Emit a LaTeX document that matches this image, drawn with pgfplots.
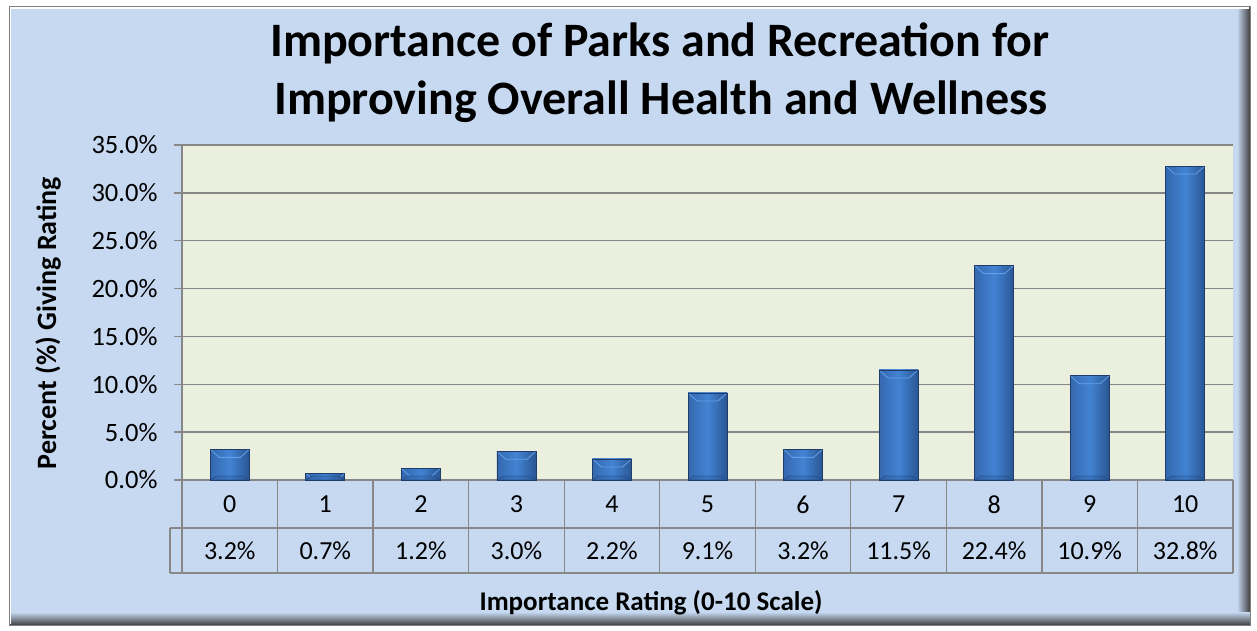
\documentclass[border=0pt]{standalone}
\usepackage{pgfplots}
\pgfplotsset{compat=1.18}
\usepackage{fontspec}
\setmainfont{Carlito}
\definecolor{bgblue}{HTML}{C6D9F1}
\definecolor{plotbg}{HTML}{EBEFDE}
\definecolor{gridgray}{HTML}{878787}
\definecolor{barL}{HTML}{3568AE}
\definecolor{barM}{HTML}{4283D3}
\definecolor{barR}{HTML}{2A5693}
\definecolor{barE}{HTML}{1E3D6B}
\definecolor{barTop}{HTML}{62A0E8}
\definecolor{barBot}{HTML}{244C85}
\newif\ifinbevel
\newcommand\bevel{%
  \ifinbevel\else
  \global\inbeveltrue
  \fill[barTop] (path picture bounding box.north west) -- (path picture bounding box.north east)
    -- ([xshift=-9pt,yshift=-8pt]path picture bounding box.north east)
    -- ([xshift=9pt,yshift=-8pt]path picture bounding box.north west) -- cycle;
  \fill[barBot, opacity=0.7] (path picture bounding box.south west) -- (path picture bounding box.south east)
    -- ([xshift=-6pt,yshift=4pt]path picture bounding box.south east)
    -- ([xshift=6pt,yshift=4pt]path picture bounding box.south west) -- cycle;
  \global\inbevelfalse
  \fi}
\begin{document}
\begin{tikzpicture}[x=1pt,y=1pt]
\fill[white] (0,0) rectangle (1257,-631);
\useasboundingbox (0,0) rectangle (1257,-631);
\fill[bgblue] (9,-7) rectangle (1250,-625);
\shade[left color=bgblue, right color=black!75] (1237,-7) rectangle (1250,-625);
\shade[top color=bgblue, bottom color=black!75] (9,-612) rectangle (1250,-625);
\draw[white, line width=1.5pt] (10,-624) -- (10,-8) -- (1249,-8);
\draw[gray, line width=1pt] (9,-7) rectangle (1250,-625);
\node[font=\bfseries\fontsize{48}{48}\selectfont, anchor=base] at (660,-57) {Importance of Parks and Recreation for};
\node[font=\bfseries\fontsize{48}{48}\selectfont, anchor=base] at (661,-115) {Improving Overall Health and Wellness};
\node[font=\bfseries\fontsize{28}{28}\selectfont, rotate=90] at (48,-323) {Percent (\%) Giving Rating};
\node[font=\bfseries\fontsize{27}{27}\selectfont] at (651,-603) {Importance Rating (0-10 Scale)};
\begin{axis}[
  at={(182pt,-480pt)}, anchor=south west,
  scale only axis, width=1051pt, height=335pt,
  xmin=-0.5, xmax=10.5, ymin=0, ymax=35,
  clip=false,
  axis background/.style={fill=plotbg},
  axis x line*=bottom, axis y line*=left,
  axis line style={gridgray, line width=1.3pt, -},
  ytick={0,5,...,35},
  ymajorgrids, grid style={gridgray, line width=1.3pt},
  major tick length=8pt, tick align=outside,
  y tick style={gridgray, line width=1.3pt},
  x tick style={draw=none},
  /pgf/number format/assume math mode=true,
  yticklabel={\pgfmathprintnumber[fixed,fixed zerofill,precision=1]{\tick}\%},
  yticklabel style={font=\fontsize{26.5}{26.5}\selectfont, xshift=-13pt},
  xtick={0,...,10},
  xticklabels={0,1,2,3,4,5,6,7,8,9,10},
  xticklabel style={font=\fontsize{26}{26}\selectfont, anchor=center, yshift=-16.5pt},
  extra x ticks={0,...,10},
  extra x tick labels={3.2\%,0.7\%,1.2\%,3.0\%,2.2\%,9.1\%,3.2\%,11.5\%,22.4\%,10.9\%,32.8\%},
  extra x tick style={grid=none, xticklabel style={yshift=-46pt}},
  mybar/.style={ybar, bar width=39pt, bar shift=0pt, draw=barE, line width=0.8pt,
    left color=barL, right color=barR, middle color=barM,
    path picture={\bevel}},
]
\addplot[mybar] coordinates {(0,3.2)};
\addplot[mybar] coordinates {(1,0.7)};
\addplot[mybar] coordinates {(2,1.2)};
\addplot[mybar] coordinates {(3,3.0)};
\addplot[mybar] coordinates {(4,2.2)};
\addplot[mybar] coordinates {(5,9.1)};
\addplot[mybar] coordinates {(6,3.2)};
\addplot[mybar] coordinates {(7,11.5)};
\addplot[mybar] coordinates {(8,22.4)};
\addplot[mybar] coordinates {(9,10.9)};
\addplot[mybar] coordinates {(10,32.8)};
\pgfplotsinvokeforeach{-0.5,0.5,...,10.5}{
  \draw[gridgray, line width=1.3pt] (axis cs:#1,0) -- ([yshift=-93pt]axis cs:#1,0);
}
\draw[gridgray, line width=1.3pt] ([xshift=-12pt,yshift=-48pt]axis cs:-0.5,0) -- ([yshift=-48pt]axis cs:10.5,0);
\draw[gridgray, line width=1.3pt] ([xshift=-12pt,yshift=-93pt]axis cs:-0.5,0) -- ([yshift=-93pt]axis cs:10.5,0);
\draw[gridgray, line width=1.3pt] ([xshift=-12pt,yshift=-48pt]axis cs:-0.5,0) -- ([xshift=-12pt,yshift=-93pt]axis cs:-0.5,0);
\end{axis}
\end{tikzpicture}
\end{document}
